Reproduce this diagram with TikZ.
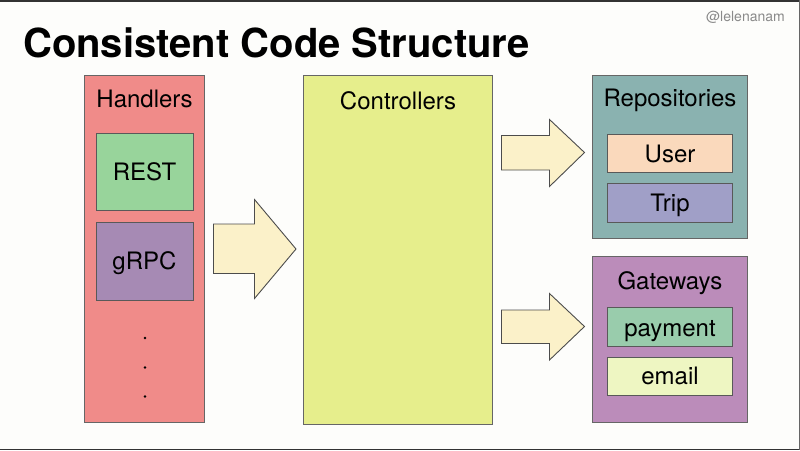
\documentclass[tikz,border=0pt]{standalone}
\usepackage{fontspec}
\setmainfont{TeX Gyre Heros}
\begin{document}
\begin{tikzpicture}[x=1pt,y=-1pt,
  panel/.style={draw=black!60,line width=0.9pt},
  item/.style={draw=black!65,line width=1pt},
  lbl/.style={font=\fontsize{24}{24}\selectfont,anchor=base,inner sep=0pt},
  blockarrow/.style={draw=black!70,line width=0.9pt,fill=arrowfill,line join=miter}]
\definecolor{bgcol}{HTML}{FDFDFB}
\definecolor{handlercol}{HTML}{F08B89}
\definecolor{restcol}{HTML}{98D49B}
\definecolor{grpccol}{HTML}{A68AB4}
\definecolor{ctrlcol}{HTML}{E6EE8C}
\definecolor{repocol}{HTML}{8AB2B0}
\definecolor{usercol}{HTML}{FAD9BC}
\definecolor{tripcol}{HTML}{A09FC7}
\definecolor{gatecol}{HTML}{BB8CBA}
\definecolor{paycol}{HTML}{99CCAC}
\definecolor{emailcol}{HTML}{EEF6C2}
\definecolor{arrowfill}{HTML}{FBF1C9}
\definecolor{handlegray}{HTML}{8A8A8A}

% page and frame
\fill[bgcol] (0,0) rectangle (800,450);
\useasboundingbox (0,0) rectangle (800,450);
\draw[black!80,line width=1.5pt] (0,0.75) -- (800,0.75);
\draw[black!80,line width=1.5pt] (0,449.25) -- (800,449.25);
\draw[black!60,line width=1pt] (799.5,0) -- (799.5,450);

% title and handle
\node[anchor=base west,inner sep=0pt,font=\fontsize{40}{40}\selectfont\bfseries] (title) at (23,57.5) {Consistent Code Structure};
\node[anchor=base east,inner sep=0pt,font=\fontsize{14}{14}\selectfont,text=handlegray] (handle) at (785,21) {@lelenanam};

% handlers column
\draw[panel,fill=handlercol] (84.5,75) rectangle (204.5,422) coordinate (hbr);
\node[lbl] (handlers) at (144.5,107) {Handlers};
\draw[item,fill=restcol] (96,133.5) rectangle (193,210.5);
\node[lbl] (rest) at (144.5,180.5) {REST};
\draw[item,fill=grpccol] (96,222.5) rectangle (193,300);
\node[lbl] (grpc) at (144.5,269.5) {gRPC};
\foreach \yy/\nm in {338/d1,367.5/d2,396.5/d3}
  \fill (145,\yy) circle (1.3pt) coordinate (\nm);

% controllers column
\draw[panel,fill=ctrlcol] (303.5,75) rectangle (492.5,424);
\node[lbl] (controllers) at (398,109) {Controllers};

% repositories
\draw[panel,fill=repocol] (592.5,75) rectangle (747.5,238.5);
\node[lbl] (repos) at (670,106.5) {Repositories};
\draw[item,fill=usercol] (607.5,134) rectangle (732.5,172.5);
\node[lbl] (user) at (670,162.5) {User};
\draw[item,fill=tripcol] (607.5,183.5) rectangle (732.5,222.5);
\node[lbl] (trip) at (670,211) {Trip};

% gateways
\draw[panel,fill=gatecol] (592.5,256.5) rectangle (747.5,422.5);
\node[lbl] (gateways) at (670,289) {Gateways};
\draw[item,fill=paycol] (607.5,307.5) rectangle (732.5,346);
\node[lbl] (payment) at (670,336) {payment};
\draw[item,fill=emailcol] (607.5,357.5) rectangle (732.5,395);
\node[lbl] (email) at (670,384) {email};

% block arrows
\draw[blockarrow] (213.5,224) -- (254.5,224) -- (254.5,199.5) -- (296,249)
  -- (254.5,298.5) -- (254.5,273.5) -- (213.5,273.5) -- cycle;
\draw[blockarrow] (501.5,135.5) -- (549.5,135.5) -- (549.5,119.5) -- (584.5,152.5)
  -- (549.5,186.5) -- (549.5,170) -- (501.5,170) -- cycle;
\draw[blockarrow] (501.5,310) -- (549.5,310) -- (549.5,293.5) -- (584.5,326.5)
  -- (549.5,360) -- (549.5,343.5) -- (501.5,343.5) -- cycle;
\end{tikzpicture}
\end{document}
